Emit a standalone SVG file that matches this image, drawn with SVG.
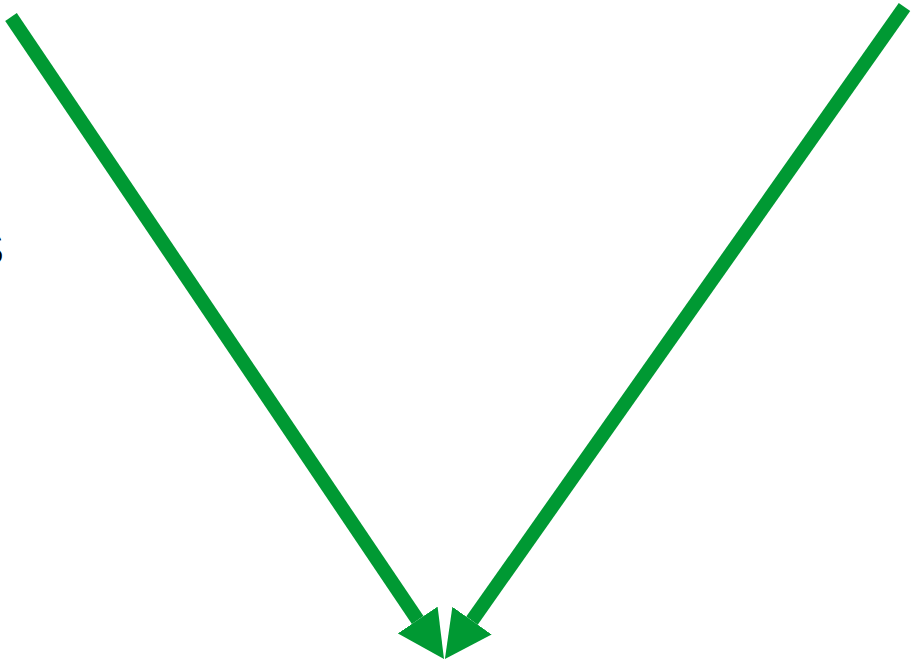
<svg xmlns="http://www.w3.org/2000/svg" width="911" height="668" viewBox="0 0 911 668">
<defs>
<marker id="head" markerUnits="userSpaceOnUse" viewBox="0 0 47 48" markerWidth="47" markerHeight="48" refX="0" refY="24" orient="auto">
<path d="M0,0 L47,24 L0,48 z" fill="#009933"/>
</marker>
<style>
.conn{stroke:#009933;stroke-width:14;fill:none;marker-end:url(#head)}
.lbl{font-family:"Liberation Sans",Arial,sans-serif;font-size:46px;fill:#000}
</style>
</defs>
<rect width="911" height="668" fill="#fff"/>
<g id="label">
<text class="lbl" x="4" y="265" text-anchor="end">S</text>
</g>
<g id="connectors">
<line class="conn" x1="11" y1="17" x2="417.7" y2="620"/>
<line class="conn" x1="904.5" y1="7" x2="472" y2="620.6"/>
</g>
</svg>
